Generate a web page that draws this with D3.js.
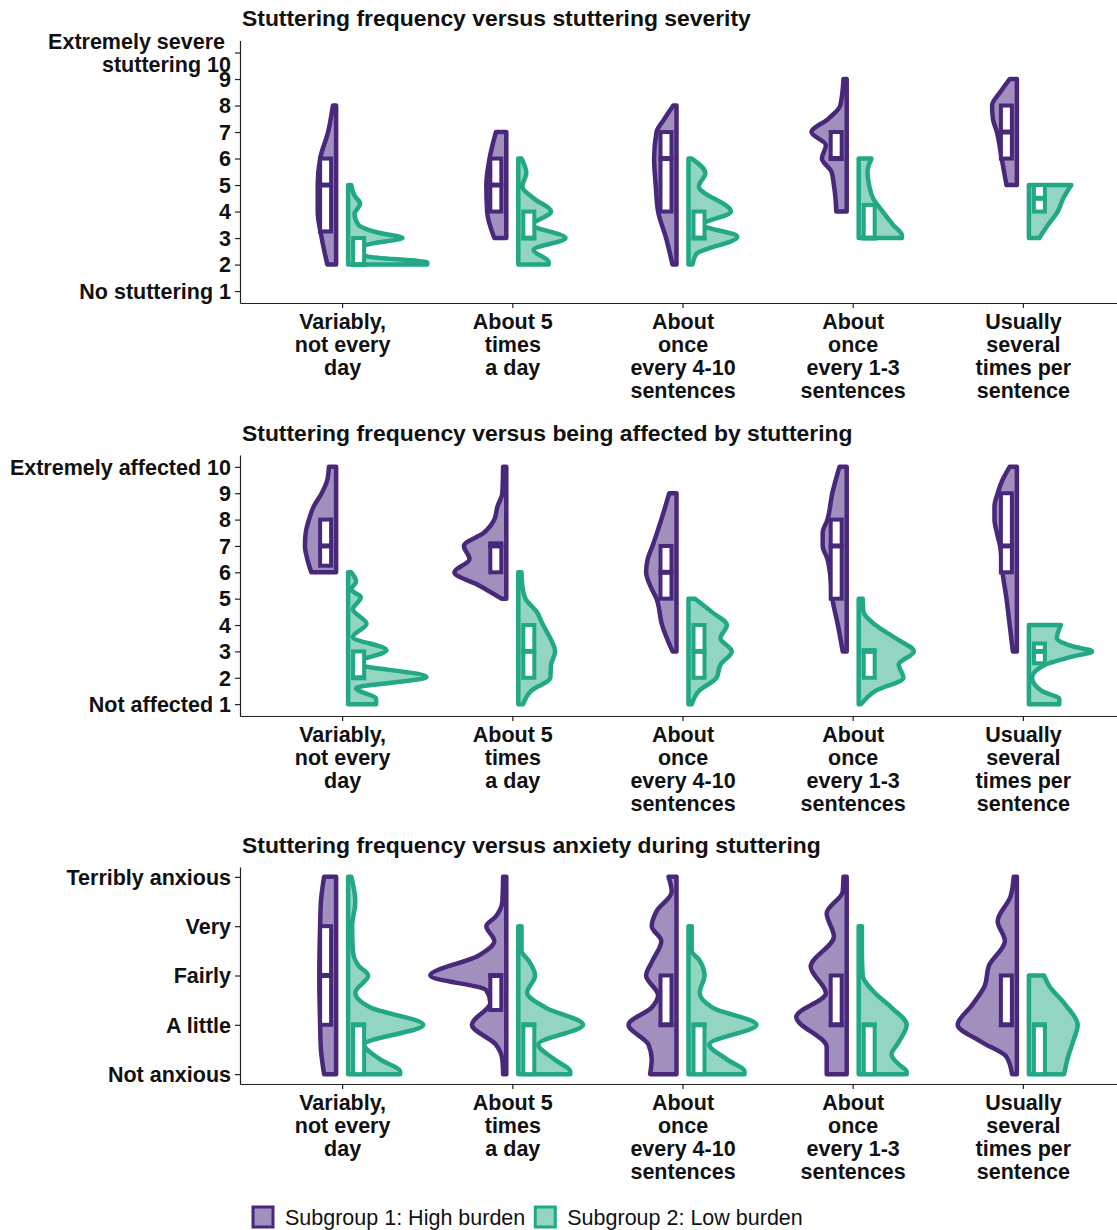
<!DOCTYPE html>
<html><head><meta charset="utf-8">
<script src="https://cdn.jsdelivr.net/npm/d3@7"></script>
<style>
body{margin:0;background:#fff}
svg text{font-family:"Liberation Sans",Arial,Helvetica,sans-serif;fill:#111}
</style>
</head><body>
<svg id="chart" width="1117" height="1230"></svg>
<script>
// ---------------- DATA ----------------
const categories = ["Variably,\nnot every\nday", "About 5\ntimes\na day", "About\nonce\nevery 4-10\nsentences", "About\nonce\nevery 1-3\nsentences", "Usually\nseveral\ntimes per\nsentence"];
const groups = ["Subgroup 1: High burden", "Subgroup 2: Low burden"];
const titles = ["Stuttering frequency versus stuttering severity", "Stuttering frequency versus being affected by stuttering", "Stuttering frequency versus anxiety during stuttering"];

const severityTicks = [1,2,3,4,5,6,7,8,9,10];
const severityLabels = ["No stuttering 1","2","3","4","5","6","7","8","9","Extremely severe\nstuttering 10"];
const affectedTicks = [1,2,3,4,5,6,7,8,9,10];
const affectedLabels = ["Not affected 1","2","3","4","5","6","7","8","9","Extremely affected 10"];
const anxietyTicks = [1,2,3,4,5];
const anxietyLabels = ["Not anxious","A little","Fairly","Very","Terribly anxious"];

// density profiles: [value, relative density (0-100)] per frequency category
const severityHigh = [
  [[8,4],[7,10],[6,20],[5,23],[4,23],[3,18],[2,11]],
  [[7,13],[6,21],[5,25],[4,24],[3,15]],
  [[8,4],[7.5,15],[7,25],[6,28],[5,26],[4,23],[3,13],[2,5]],
  [[9,4],[8,8],[7.5,23],[7,44],[6.5,26],[6,31],[5.5,19],[5,16],[4.5,14],[4,13]],
  [[9,9],[8.5,21],[8,31],[7.5,30],[7,25],[6,19],[5,13]]
];
const severityLow = [
  [[5,4],[4.6,8],[4.3,15],[3.9,8],[3.5,13],[3.2,38],[3,68],[2.8,31],[2.55,10],[2.3,25],[2.08,99],[2,99]],
  [[6,4],[5.45,10],[4.95,5],[4.5,19],[4,41],[3.5,18],[3,59],[2.55,19],[2.1,38],[2,38]],
  [[6,4],[5.45,21],[4.95,13],[4,53],[3.5,18],[3.05,61],[2.4,10],[2,5]],
  [[6,16],[5.5,11],[5,13],[4.5,18],[4,30],[3.5,43],[3.1,54],[3,54]],
  [[5,53],[4.5,43],[4,36],[3.5,24],[3,13]]
];
const affectedHigh = [
  [[10,9],[9.5,11],[9,18],[8.5,28],[8,34],[7.5,38],[7,39],[6.5,36],[6,31]],
  [[10,4],[9,5],[8.5,11],[8,15],[7.5,28],[7,53],[6.5,46],[6,65],[5.5,34],[5,6]],
  [[9,9],[8,19],[7,30],[6.5,36],[6,38],[5.5,33],[5,25],[4,18],[3,5]],
  [[10,9],[9,18],[8,24],[7.5,30],[7,30],[6.5,24],[6,21],[5,18],[4,11],[3,5]],
  [[10,9],[9.5,18],[9,24],[8.5,28],[8,28],[7.5,25],[7,21],[6,18],[5,13],[4,9],[3,5]]
];
const affectedLow = [
  [[6,4],[5.65,10],[5.35,4],[5.05,16],[4.6,6],[4.05,23],[3.55,6],[3.05,48],[2.55,10],[2.03,98],[1.6,10],[1.2,35],[1,35]],
  [[6,4],[5.5,5],[5,9],[4.5,23],[4,31],[3.5,40],[3,46],[2.5,41],[2,40],[1.5,16],[1,6]],
  [[5,8],[4.5,29],[4,48],[3.5,40],[3,54],[2.5,40],[2,35],[1.5,13],[1,4]],
  [[5,5],[4.5,6],[4,21],[3.5,46],[3,69],[2.5,50],[2,56],[1.5,21],[1,3]],
  [[4,40],[3.5,35],[3.2,54],[3,79],[2.8,54],[2.5,21],[2,4],[1.5,16],[1.2,38],[1,38]]
];
const anxietyHigh = [
  [[5,15],[4.5,19],[4,20],[3,21],[2,20],[1.5,19],[1,15]],
  [[5,4],[4.5,5],[4.2,13],[4,25],[3.7,15],[3.4,35],[3,95],[2.7,25],[2.45,20],[2,43],[1.6,13],[1.3,5],[1,4]],
  [[5,10],[4.7,6],[4.3,25],[4,31],[3.7,19],[3.3,30],[3,38],[2.6,23],[2.35,31],[2,60],[1.6,35],[1.3,31],[1,33]],
  [[5,4],[4.7,5],[4.26,25],[3.79,16],[3.18,45],[2.64,26],[2.16,63],[1.55,25],[1,25]],
  [[5,4],[4.6,8],[4.1,24],[3.7,15],[3.2,35],[2.8,40],[2.4,56],[2,74],[1.65,44],[1.35,13],[1,6]]
];
const anxietyLow = [
  [[5,4],[4.5,9],[4,5],[3.5,6],[3.2,13],[3,25],[2.65,9],[2.35,28],[2,94],[1.6,20],[1.3,40],[1.05,65],[1,65]],
  [[4,4],[3.5,4],[3.3,13],[3,21],[2.65,11],[2.35,34],[2,81],[1.6,25],[1.3,45],[1.05,65],[1,65]],
  [[4,4],[3.5,4],[3.3,14],[3,20],[2.65,14],[2.35,30],[2,85],[1.6,26],[1.3,48],[1.05,70],[1,70]],
  [[4,4],[3.5,4],[3,5],[2.65,20],[2.35,41],[2,60],[1.65,50],[1.4,41],[1.2,50],[1.05,60],[1,60]],
  [[3,19],[2.8,25],[2.4,46],[2,61],[1.65,55],[1.35,49],[1,44]]
];

// box stats: [q1, median, q3]
const severityHighBox = [[3.25,5,6],[4,5,6],[4,6,7],[6,6,7],[6,7,8]];
const severityLowBox  = [[2,2,3],[3,3,4],[3,3,4],[3,3,4.25],[4,4.5,5]];
const affectedHighBox = [[6.25,7,8],[6,7,7.1],[5,6,7],[5,7,8],[6,7,9]];
const affectedLowBox  = [[2,2,3],[2,3,4],[2,3,4],[2,3,3.05],[2.55,3,3.3]];
const anxietyHighBox  = [[2,3,4],[2.3,3,3],[2,2,3],[2,2,3],[2,2,3]];
const anxietyLowBox   = [[1,2,2],[1,2,2],[1,2,2],[1,2,2],[1,2,2]];

// ---------------- STYLE / LAYOUT ----------------
const PURPLE = "#48287a", PURPLE_FILL = "#43207d";
const GREEN = "#22a884", GREEN_FILL = "#25ab81";
const LABEL_FS = 21.5, TITLE_FS = 22.9, LH = 23;

const svg = d3.select("#chart");
const x = d3.scalePoint().domain(d3.range(categories.length)).range([240, 1125]).padding(0.6);
const wScale = d3.scaleLinear().domain([0, 100]).range([0, 80]);

const panels = [
  {title: titles[0], top: 40.6, bottom: 303, domain: [0.55, 10.45], ticks: severityTicks, labels: severityLabels,
   high: severityHigh, low: severityLow, highBox: severityHighBox, lowBox: severityLowBox},
  {title: titles[1], top: 455, bottom: 716, domain: [0.55, 10.45], ticks: affectedTicks, labels: affectedLabels,
   high: affectedHigh, low: affectedLow, highBox: affectedHighBox, lowBox: affectedLowBox},
  {title: titles[2], top: 867, bottom: 1084, domain: [0.8, 5.2], ticks: anxietyTicks, labels: anxietyLabels,
   high: anxietyHigh, low: anxietyLow, highBox: anxietyHighBox, lowBox: anxietyLowBox}
];

function styleAxis(ax) {
  ax.attr("font-size", null).attr("font-family", null);
  ax.select(".domain").attr("stroke", "#222").attr("stroke-width", 1.2);
  ax.selectAll(".tick line").attr("stroke", "#222").attr("stroke-width", 1.2);
  ax.selectAll(".tick text").attr("font-size", LABEL_FS).attr("font-weight", "bold").attr("fill", "#111");
}

panels.forEach(p => {
  const y = d3.scaleLinear().domain(p.domain).range([p.bottom, p.top]);
  const g = svg.append("g");

  g.append("text").attr("x", 242).attr("y", p.top - 14.5)
    .attr("font-size", TITLE_FS).attr("font-weight", "bold").text(p.title);

  // violins
  const vg = g.append("g");
  const drawViolin = (prof, i, off, sign, stroke, fill) => {
    const cx = x(i);
    const area = d3.area().curve(d3.curveMonotoneY)
      .y(d => y(d[0]))
      .x0(cx + off)
      .x1(d => cx + off + sign * wScale(d[1]));
    vg.append("path").attr("d", area(prof))
      .attr("fill", fill).attr("fill-opacity", 0.5)
      .attr("stroke", stroke).attr("stroke-width", 4.5).attr("stroke-linejoin", "round");
  };
  p.high.forEach((prof, i) => drawViolin(prof, i, -6, -1, PURPLE, PURPLE_FILL));
  p.low.forEach((prof, i) => drawViolin(prof, i, 6, 1, GREEN, GREEN_FILL));

  // boxes
  const drawBox = (b, i, off, stroke) => {
    const cx = x(i) + off, bw = 11;
    vg.append("rect").attr("x", cx - bw / 2).attr("width", bw)
      .attr("y", y(b[2])).attr("height", Math.max(0, y(b[0]) - y(b[2])))
      .attr("fill", "#fff").attr("stroke", stroke).attr("stroke-width", 4);
    vg.append("line").attr("x1", cx - bw / 2 - 2).attr("x2", cx + bw / 2 + 2)
      .attr("y1", y(b[1])).attr("y2", y(b[1]))
      .attr("stroke", stroke).attr("stroke-width", 5);
  };
  p.highBox.forEach((b, i) => drawBox(b, i, -16.5, PURPLE));
  p.lowBox.forEach((b, i) => drawBox(b, i, 16.5, GREEN));

  // y axis
  const ya = g.append("g").attr("transform", "translate(240,0)")
    .call(d3.axisLeft(y).tickValues(p.ticks).tickSize(5).tickPadding(4).tickSizeOuter(0)
      .tickFormat((d, i) => p.labels[i]));
  styleAxis(ya);
  ya.selectAll(".tick text").each(function (d, i) {
    const lines = p.labels[i].split("\n");
    const t = d3.select(this).text(null).attr("dy", null);
    lines.forEach((ln, j) => {
      t.append("tspan").attr("x", (lines.length > 1 && j < lines.length - 1) ? -15 : -9)
        .attr("dy", j === 0 ? (0.34 * LABEL_FS - (lines.length - 1) / 2 * LH) + "px" : LH + "px")
        .text(ln);
    });
  });

  // x axis
  const xa = g.append("g").attr("transform", `translate(0,${p.bottom})`)
    .call(d3.axisBottom(x).tickSize(5).tickSizeOuter(0).tickFormat(i => categories[i]));
  styleAxis(xa);
  xa.selectAll(".tick text").each(function (d) {
    const lines = categories[d].split("\n");
    const t = d3.select(this).text(null).attr("dy", null).attr("y", 0);
    lines.forEach((ln, j) => {
      t.append("tspan").attr("x", 0).attr("dy", (j === 0 ? 25.5 : LH) + "px").text(ln);
    });
  });
});

// legend
const lg = svg.append("g");
const legendItems = [{label: groups[0], stroke: PURPLE, fill: PURPLE_FILL}, {label: groups[1], stroke: GREEN, fill: GREEN_FILL}];
let lx = 253;
legendItems.forEach(it => {
  lg.append("rect").attr("x", lx).attr("y", 1207).attr("width", 20).attr("height", 20)
    .attr("fill", it.fill).attr("fill-opacity", 0.5).attr("stroke", it.stroke).attr("stroke-width", 3);
  const t = lg.append("text").attr("x", lx + 32).attr("y", 1224.5).attr("font-size", 21.5).text(it.label);
  lx = lx + 32 + t.node().getComputedTextLength() + 10;
});
</script>
</body></html>
